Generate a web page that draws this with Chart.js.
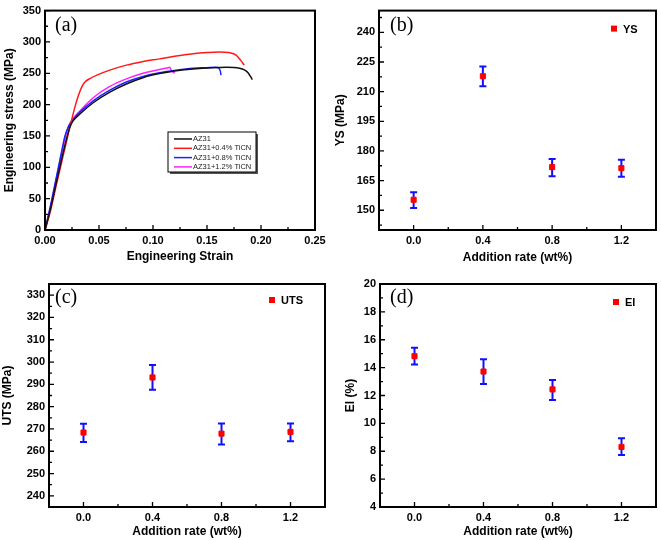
<!DOCTYPE html>
<html>
<head>
<meta charset="utf-8">
<script src="https://cdn.jsdelivr.net/npm/chart.js@4.4.1/dist/chart.umd.min.js"></script>
<style>
body { margin: 0; background: #fff; width: 661px; height: 540px; position: relative; overflow: hidden; }
canvas { position: absolute; }
</style>
</head>
<body>
<canvas id="chartA" width="330" height="270" style="left:0;top:0"></canvas>
<canvas id="chartB" width="331" height="270" style="left:330px;top:0"></canvas>
<canvas id="chartC" width="330" height="270" style="left:0;top:270px"></canvas>
<canvas id="chartD" width="331" height="270" style="left:330px;top:270px"></canvas>
<script>
// (a) stress-strain curves
const az31Strain = [0, 0.005, 0.01, 0.015, 0.02, 0.023, 0.026, 0.0323, 0.0446, 0.06, 0.0753, 0.0907, 0.106, 0.1215, 0.137, 0.155, 0.168, 0.18, 0.185, 0.188, 0.192];
const az31Stress = [0, 33, 72, 110, 146, 164, 174, 185, 203, 220, 233, 243, 249.5, 254, 257, 259, 259.5, 258, 255, 251, 240];
const ticn04Strain = [0, 0.005, 0.01, 0.015, 0.02, 0.025, 0.028, 0.031, 0.034, 0.037, 0.042, 0.048, 0.06, 0.0753, 0.09, 0.106, 0.12, 0.137, 0.15, 0.161, 0.17, 0.177, 0.181, 0.1845];
const ticn04Stress = [0, 30, 68, 105, 142, 178, 198, 215, 228, 236, 242, 247, 255, 263, 268.5, 273, 277, 281, 283, 284, 283, 279, 271, 263];
const ticn08Strain = [0, 0.005, 0.01, 0.015, 0.0185, 0.022, 0.026, 0.0323, 0.0446, 0.06, 0.0753, 0.0907, 0.106, 0.1215, 0.137, 0.15, 0.158, 0.161, 0.1624, 0.163];
const ticn08Stress = [0, 38, 80, 122, 150, 166, 176, 188, 206, 223, 236, 245, 251, 255, 258, 259, 259.5, 258, 253, 247];
const ticn12Strain = [0, 0.005, 0.01, 0.015, 0.019, 0.022, 0.026, 0.0323, 0.0446, 0.06, 0.0753, 0.0907, 0.106, 0.113, 0.1155, 0.1168, 0.12];
const ticn12Stress = [0, 36, 77, 118, 150, 166, 178, 190, 211, 229, 241, 250, 256, 258.5, 259.5, 255, 250];
const strainTicks = [0, 0.05, 0.1, 0.15, 0.2, 0.25];
const stressTicks = [0, 50, 100, 150, 200, 250, 300, 350];

// (b)(c)(d) properties vs addition rate
const addRate = [0.0, 0.4, 0.8, 1.2];
const ysMean = [155.3, 217.8, 171.8, 171.3];
const ysLow = [151.1, 212.7, 167.2, 166.9];
const ysHigh = [159.1, 222.7, 175.9, 175.6];
const utsMean = [268.4, 293.1, 267.9, 268.7];
const utsLow = [264.2, 287.6, 263.0, 264.5];
const utsHigh = [272.3, 298.7, 272.5, 272.4];
const elMean = [14.82, 13.72, 12.44, 8.31];
const elLow = [14.22, 12.82, 11.68, 7.73];
const elHigh = [15.42, 14.6, 13.12, 8.93];
const rateTicks = [0, 0.4, 0.8, 1.2];
const ysTicks = [150, 165, 180, 195, 210, 225, 240];
const utsTicks = [240, 250, 260, 270, 280, 290, 300, 310, 320, 330];
const elTicks = [4, 6, 8, 10, 12, 14, 16, 18, 20];

const FONT = 'Arial, "Liberation Sans", sans-serif';
Chart.defaults.color = '#000';
Chart.defaults.font.family = FONT;

function pts(xs, ys) {
  return xs.map((x, i) => ({ x: x, y: ys[i] }));
}

function midpoints(t) {
  const out = [];
  for (let i = 0; i < t.length - 1; i++) out.push((t[i] + t[i + 1]) / 2);
  out.push(t[0] - (t[1] - t[0]) / 2);
  out.push(t[t.length - 1] + (t[1] - t[0]) / 2);
  return out;
}

const framePlugin = {
  id: 'frame',
  beforeDatasetsDraw(chart) {
    const { ctx } = chart;
    const xs = chart.scales.x, ys = chart.scales.y;
    chart.data.datasets.forEach(ds => {
      if (!ds.errLow) return;
      ctx.save();
      ctx.strokeStyle = '#1010ff';
      ctx.lineWidth = 2;
      ds.data.forEach((p, i) => {
        const x = xs.getPixelForValue(p.x);
        const y1 = ys.getPixelForValue(ds.errLow[i]);
        const y2 = ys.getPixelForValue(ds.errHigh[i]);
        ctx.beginPath();
        ctx.moveTo(x, y1); ctx.lineTo(x, y2);
        ctx.moveTo(x - 3.5, y1); ctx.lineTo(x + 3.5, y1);
        ctx.moveTo(x - 3.5, y2); ctx.lineTo(x + 3.5, y2);
        ctx.stroke();
      });
      ctx.restore();
    });
  },
  afterDraw(chart, args, opts) {
    const { ctx, chartArea: a } = chart;
    const xs = chart.scales.x, ys = chart.scales.y;
    ctx.save();
    ctx.strokeStyle = '#000';
    // inward ticks
    ctx.lineWidth = 1.3;
    ctx.beginPath();
    opts.xMajor.forEach(v => { const x = xs.getPixelForValue(v); ctx.moveTo(x, a.bottom); ctx.lineTo(x, a.bottom - 5); });
    midpoints(opts.xMajor).forEach(v => {
      if (v <= xs.min || v >= xs.max) return;
      const x = xs.getPixelForValue(v); ctx.moveTo(x, a.bottom); ctx.lineTo(x, a.bottom - 3);
    });
    opts.yMajor.forEach(v => { const y = ys.getPixelForValue(v); ctx.moveTo(a.left, y); ctx.lineTo(a.left + 5, y); });
    midpoints(opts.yMajor).forEach(v => {
      if (v <= ys.min || v >= ys.max) return;
      const y = ys.getPixelForValue(v); ctx.moveTo(a.left, y); ctx.lineTo(a.left + 3, y);
    });
    ctx.stroke();
    // frame
    ctx.lineWidth = 2;
    ctx.strokeRect(a.left, a.top, a.right - a.left, a.bottom - a.top);
    // panel label
    ctx.fillStyle = '#000';
    ctx.font = '20px "Liberation Serif", "Times New Roman", serif';
    ctx.textAlign = 'left';
    ctx.textBaseline = 'alphabetic';
    ctx.fillText(opts.label, a.left + opts.labelPos[0], a.top + opts.labelPos[1]);
    // point legend
    if (opts.legendText) {
      const lx = a.right - opts.legendPos[0], ly = a.top + opts.legendPos[1];
      ctx.fillStyle = '#ff0000';
      ctx.fillRect(lx - 3, ly - 3, 6, 6);
      ctx.fillStyle = '#000';
      ctx.font = 'bold 11px ' + FONT;
      ctx.textBaseline = 'middle';
      ctx.fillText(opts.legendText, lx + 9, ly + 1);
    }
    // line legend
    if (opts.lineLegend) {
      const bx = 168, by = 132, bw = 88, bh = 40;
      ctx.fillStyle = '#555';
      ctx.fillRect(bx + 2, by + 2, bw, bh);
      ctx.fillStyle = '#fff';
      ctx.fillRect(bx, by, bw, bh);
      ctx.lineWidth = 1;
      ctx.strokeStyle = '#000';
      ctx.strokeRect(bx, by, bw, bh);
      ctx.font = '7.5px ' + FONT;
      ctx.textBaseline = 'middle';
      chart.data.datasets.forEach((ds, i) => {
        const y = by + 7 + i * 9.3;
        ctx.strokeStyle = ds.borderColor;
        ctx.lineWidth = 1.5;
        ctx.beginPath(); ctx.moveTo(bx + 6, y); ctx.lineTo(bx + 24, y); ctx.stroke();
        ctx.fillStyle = '#222';
        ctx.fillText(ds.label, bx + 25, y);
      });
    }
    ctx.restore();
  }
};

function axisX(ticks, min, max, digits, fitH, titlePad, title) {
  return {
    type: 'linear', min: min, max: max,
    afterBuildTicks: s => { s.ticks = ticks.map(v => ({ value: v })); },
    afterFit: s => { s.height = fitH; },
    grid: { display: false, drawTicks: false },
    border: { display: false },
    ticks: { padding: 4, font: { size: 11, weight: 'bold' }, callback: v => v.toFixed(digits) },
    title: { display: true, text: title, font: { size: 12, weight: 'bold' }, padding: { top: 0, bottom: titlePad } }
  };
}

function axisY(ticks, min, max, fitW, titlePad, title) {
  return {
    type: 'linear', min: min, max: max,
    afterBuildTicks: s => { s.ticks = ticks.map(v => ({ value: v })); },
    afterFit: s => { s.width = fitW; },
    grid: { display: false, drawTicks: false },
    border: { display: false },
    ticks: { padding: 4, font: { size: 11, weight: 'bold' }, callback: v => String(v) },
    title: { display: true, text: title, font: { size: 12, weight: 'bold' }, padding: { top: titlePad, bottom: 0 } }
  };
}

function lineSet(label, color, xs, ys) {
  return {
    label: label, data: pts(xs, ys), borderColor: color, borderWidth: 1.5,
    showLine: true, pointRadius: 0, cubicInterpolationMode: 'monotone', fill: false
  };
}

new Chart(document.getElementById('chartA'), {
  type: 'scatter',
  data: {
    datasets: [
      lineSet('AZ31', '#111111', az31Strain, az31Stress),
      lineSet('AZ31+0.4% TiCN', '#ff1a1a', ticn04Strain, ticn04Stress),
      lineSet('AZ31+0.8% TiCN', '#2020ff', ticn08Strain, ticn08Stress),
      lineSet('AZ31+1.2% TiCN', '#ff20ff', ticn12Strain, ticn12Stress)
    ]
  },
  options: {
    responsive: false, animation: false,
    layout: { padding: { left: 0, top: 6, right: 15, bottom: 0 } },
    scales: {
      x: axisX(strainTicks, 0, 0.25, 2, 40, 6, 'Engineering Strain'),
      y: axisY(stressTicks, 0, 350, 45, 2, 'Engineering stress (MPa)')
    },
    plugins: {
      legend: { display: false }, tooltip: { enabled: false },
      frame: { xMajor: strainTicks, yMajor: stressTicks, label: '(a)', labelPos: [10, 20], lineLegend: true }
    }
  },
  plugins: [framePlugin]
});

function propChart(id, label, mean, low, high, yTicks, ymin, ymax, fitW, titlePad, title, canvasRight, xFitH, xTitlePad, topPad, labelPos, legendPos) {
  new Chart(document.getElementById(id), {
    type: 'scatter',
    data: {
      datasets: [{
        label: label, data: pts(addRate, mean), errLow: low, errHigh: high,
        pointStyle: 'rect', pointRadius: 3.6, backgroundColor: '#ff0000', borderColor: '#ff0000', borderWidth: 1
      }]
    },
    options: {
      responsive: false, animation: false,
      layout: { padding: { left: 0, top: topPad, right: canvasRight, bottom: 0 } },
      scales: {
        x: axisX(rateTicks, -0.2, 1.4, 1, xFitH, xTitlePad, 'Addition rate (wt%)'),
        y: axisY(yTicks, ymin, ymax, fitW, titlePad, title)
      },
      plugins: {
        legend: { display: false }, tooltip: { enabled: false },
        frame: { xMajor: rateTicks, yMajor: yTicks, label: label === 'YS' ? '(b)' : label === 'UTS' ? '(c)' : '(d)', labelPos: labelPos, legendText: label, legendPos: legendPos }
      }
    },
    plugins: [framePlugin]
  });
}

propChart('chartB', 'YS', ysMean, ysLow, ysHigh, ysTicks, 140, 251, 49, 3, 'YS (MPa)', 2, 40, 5, 6, [11, 20], [42, 18]);
propChart('chartC', 'UTS', utsMean, utsLow, utsHigh, utsTicks, 235, 335, 49, 0, 'UTS (MPa)', 1, 33, 1.5, 14, [6, 19], [53, 16]);
propChart('chartD', 'El', elMean, elLow, elHigh, elTicks, 4, 20, 50, 13, 'El (%)', 2, 33, 1.5, 14, [10, 19], [40, 18]);
</script>
</body>
</html>
